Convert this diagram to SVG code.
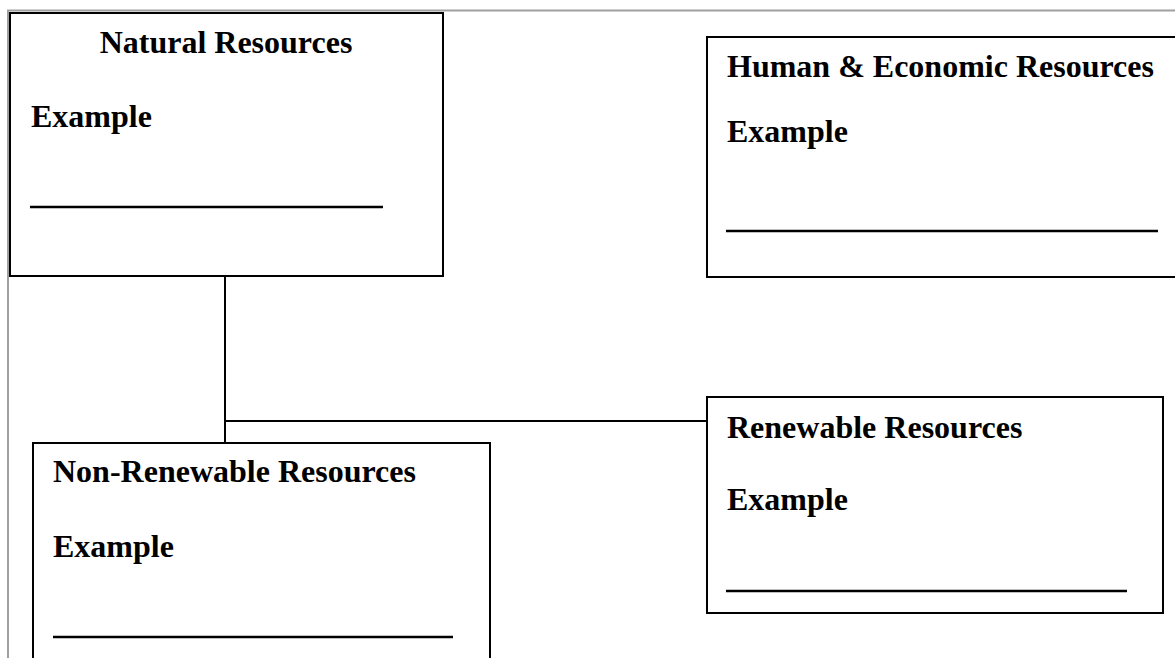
<svg xmlns="http://www.w3.org/2000/svg" width="1175" height="658" viewBox="0 0 1175 658">
<style>
.box{fill:#fff;stroke:#000;stroke-width:2}
.t{font-family:"Liberation Serif","Times New Roman",serif;font-weight:bold;font-size:32px;fill:#000}
.blank{stroke:#000;stroke-width:2.5}
.conn{stroke:#000;stroke-width:2;fill:none}
.page{stroke:#a0a0a0;stroke-width:2;fill:none}
</style>
<rect width="1175" height="658" fill="#fff"/>
<path class="page" d="M8,658 V10.5 H1175"/>
<g id="connectors">
<line class="conn" x1="225" y1="276" x2="225" y2="443"/>
<line class="conn" x1="225" y1="421" x2="707" y2="421"/>
</g>
<g id="natural">
<rect class="box" x="10" y="13" width="433" height="263"/>
<text class="t" x="226" y="53" text-anchor="middle">Natural Resources</text>
<text class="t" x="31" y="127">Example</text>
<line class="blank" x1="30" y1="207" x2="383" y2="207"/>
</g>
<g id="human">
<rect class="box" x="707" y="37" width="480" height="240"/>
<text class="t" x="727" y="77">Human &amp; Economic Resources</text>
<text class="t" x="727" y="142">Example</text>
<line class="blank" x1="726" y1="231" x2="1158" y2="231"/>
</g>
<g id="renewable">
<rect class="box" x="707" y="397" width="456" height="216"/>
<text class="t" x="727" y="438">Renewable Resources</text>
<text class="t" x="727" y="510">Example</text>
<line class="blank" x1="726" y1="591" x2="1127" y2="591"/>
</g>
<g id="nonrenewable">
<rect class="box" x="33" y="443" width="457" height="240"/>
<text class="t" x="53" y="482">Non-Renewable Resources</text>
<text class="t" x="53" y="557">Example</text>
<line class="blank" x1="53" y1="637" x2="453" y2="637"/>
</g>
</svg>
